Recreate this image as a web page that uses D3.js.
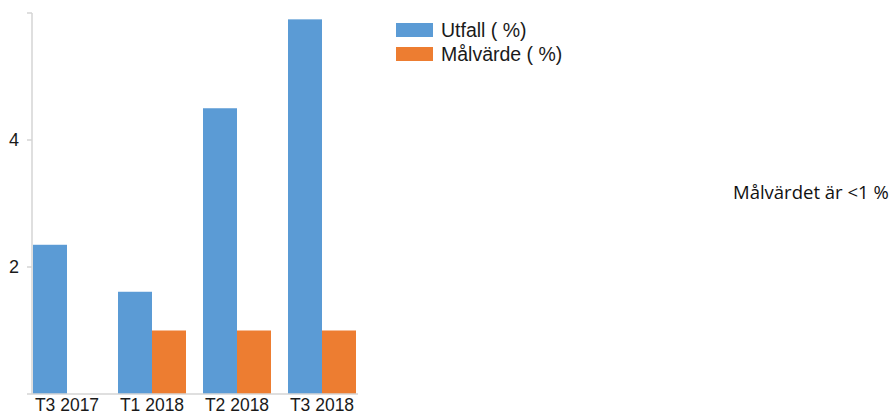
<!DOCTYPE html>
<html>
<head>
<meta charset="utf-8">
<script src="https://cdn.jsdelivr.net/npm/d3@7"></script>
<style>
  body { margin: 0; background: #fff; }
  svg { display: block; }
</style>
</head>
<body>
<div id="chart"></div>
<script>
// data
const categories = ['T3 2017', 'T1 2018', 'T2 2018', 'T3 2018'];
const utfall = [2.35, 1.61, 4.5, 5.9];
const malvarde = [null, 1.0, 1.0, 1.0];
const seriesNames = ['Utfall ( %)', 'Målvärde ( %)'];
const yTicks = [2, 4, 6];
const note = 'Målvärdet är <1 %';

const colors = ['#5B9BD5', '#ED7D31'];

const W = 891, H = 415;
const svg = d3.select('#chart').append('svg')
    .attr('width', W).attr('height', H);

// layout
const plot = { left: 33, right: 356, top: 13, bottom: 394 };

const x = d3.scaleBand()
    .domain(categories)
    .range([plot.left, plot.right])
    .paddingInner(0.2)
    .paddingOuter(0);

const xSub = d3.scaleBand()
    .domain([0, 1])
    .range([0, x.bandwidth()]);

const y = d3.scaleLinear()
    .domain([0, 6])
    .range([plot.bottom, plot.top]);

// bars
const rows = categories.map((c, i) => ({ c, vals: [utfall[i], malvarde[i]] }));

const groups = svg.append('g').selectAll('g')
    .data(rows)
    .join('g')
    .attr('transform', d => `translate(${x(d.c)},0)`);

groups.selectAll('rect')
    .data(d => d.vals.map((v, k) => ({ v, k })).filter(d => d.v != null))
    .join('rect')
    .attr('x', d => xSub(d.k))
    .attr('width', xSub.bandwidth())
    .attr('y', d => y(d.v))
    .attr('height', d => y(0) - y(d.v))
    .attr('fill', d => colors[d.k]);

// axes
const axisColor = '#d4d4d4';

svg.append('line')
    .attr('x1', plot.left - 1).attr('x2', plot.left - 1)
    .attr('y1', plot.top).attr('y2', plot.bottom)
    .attr('stroke', axisColor).attr('stroke-width', 1.5);

svg.append('line')
    .attr('x1', plot.left - 6).attr('x2', plot.right + 2)
    .attr('y1', plot.bottom).attr('y2', plot.bottom)
    .attr('stroke', axisColor).attr('stroke-width', 1.5);

const yAxis = svg.append('g');
yAxis.selectAll('line')
    .data(yTicks)
    .join('line')
    .attr('x1', plot.left - 6).attr('x2', plot.left - 1)
    .attr('y1', d => y(d)).attr('y2', d => y(d))
    .attr('stroke', axisColor).attr('stroke-width', 1.5);

yAxis.selectAll('text')
    .data(yTicks.filter(d => d < 6))
    .join('text')
    .attr('x', 14)
    .attr('y', d => y(d))
    .attr('dy', '0.36em')
    .attr('text-anchor', 'middle')
    .attr('font-family', 'Liberation Sans, Arial, sans-serif')
    .attr('font-size', '18px')
    .attr('fill', '#1a1a1a')
    .text(d => d);

svg.append('g').selectAll('text')
    .data(categories)
    .join('text')
    .attr('x', d => x(d) + x.bandwidth() / 2)
    .attr('y', 411)
    .attr('text-anchor', 'middle')
    .attr('font-family', 'Liberation Sans, Arial, sans-serif')
    .attr('font-size', '17.5px')
    .attr('fill', '#1a1a1a')
    .text(d => d);

// legend
const legend = svg.append('g').attr('transform', 'translate(396,23)');
seriesNames.forEach((name, i) => {
    legend.append('rect')
        .attr('x', 0).attr('y', i * 24)
        .attr('width', 37).attr('height', 14)
        .attr('fill', colors[i]);
    legend.append('text')
        .attr('x', 45).attr('y', i * 24 + 7)
        .attr('dy', '0.36em')
        .attr('font-family', 'Liberation Sans, Arial, sans-serif')
        .attr('font-size', '19.5px')
        .attr('fill', '#1a1a1a')
        .text(name);
});

// note on the right
svg.append('text')
    .attr('x', 733)
    .attr('y', 192)
    .attr('dy', '0.36em')
    .attr('font-family', 'Open Sans, Noto Sans, sans-serif')
    .attr('font-size', '18.5px')
    .attr('fill', '#111')
    .text(note);
</script>
</body>
</html>
